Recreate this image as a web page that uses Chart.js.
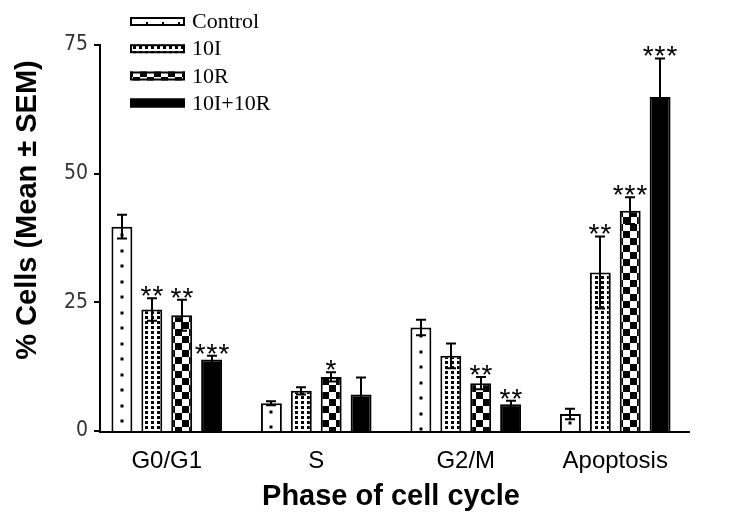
<!DOCTYPE html>
<html lang="en">
<head>
  <meta charset="UTF-8">
  <title>Phase of cell cycle</title>
  <script src="https://cdn.jsdelivr.net/npm/chart.js@4.4.1/dist/chart.umd.min.js"></script>
  <style>
    body { margin: 0; background: #fff; }
    #chart { display: block; }
  </style>
</head>
<body>
  <canvas id="chart" width="750" height="524"></canvas>
  <script>
    // values (mean and SEM, % cells)
    const phases = ['G0/G1', 'S', 'G2/M', 'Apoptosis'];
    const groups = ['Control', '10I', '10R', '10I+10R'];
    const controlMean = [39.7, 5.4, 20.1, 3.3];
    const controlSem = [2.3, 0.4, 1.5, 1.0];
    const tenIMean = [23.6, 7.8, 14.6, 30.8];
    const tenISem = [2.2, 0.7, 2.4, 7.0];
    const tenRMean = [22.5, 10.5, 9.3, 42.8];
    const tenRSem = [3.0, 0.9, 1.2, 2.6];
    const comboMean = [13.9, 7.1, 5.2, 64.9];
    const comboSem = [0.7, 3.3, 0.7, 7.5];
    const controlStars = ['', '', '', ''];
    const tenIStars = ['**', '', '', '**'];
    const tenRStars = ['**', '*', '**', '***'];
    const comboStars = ['***', '', '**', '***'];
    const yTicks = [0, 25, 50, 75];

    const sems = [controlSem, tenISem, tenRSem, comboSem];
    const stars = [controlStars, tenIStars, tenRStars, comboStars];

    const canvas = document.getElementById('chart');
    const mainCtx = canvas.getContext('2d');

    function makePattern(w, h, paint) {
      const tile = document.createElement('canvas');
      tile.width = w;
      tile.height = h;
      const g = tile.getContext('2d');
      g.fillStyle = '#fff';
      g.fillRect(0, 0, w, h);
      g.fillStyle = '#000';
      paint(g);
      return mainCtx.createPattern(tile, 'repeat');
    }

    // dot grid for 10I
    const dotPattern = makePattern(6, 5, g => g.fillRect(1, 1, 3, 3));
    // checkerboard for 10R
    const checkPattern = makePattern(14, 14, g => {
      g.fillRect(0, 0, 7, 7);
      g.fillRect(7, 7, 7, 7);
    });

    const fills = ['#fff', dotPattern, checkPattern, '#000'];

    const extras = {
      id: 'extras',
      afterDatasetsDraw(chart) {
        const ctx = chart.ctx;
        const yS = chart.scales.y;
        ctx.save();

        // sparse dots inside the control bars
        ctx.fillStyle = '#000';
        chart.getDatasetMeta(0).data.forEach(bar => {
          for (let py = bar.y + 8.5; py < bar.base - 1; py += 15.5) {
            ctx.fillRect(Math.round(bar.x) - 1.5, Math.round(py) - 1.5, 3, 3);
          }
        });

        // error bars and significance marks
        ctx.strokeStyle = '#000';
        ctx.lineWidth = 2;
        ctx.font = "28px 'Liberation Sans', Arial, sans-serif";
        ctx.letterSpacing = '1px';
        ctx.textAlign = 'center';
        ctx.textBaseline = 'alphabetic';
        chart.data.datasets.forEach((ds, di) => {
          chart.getDatasetMeta(di).data.forEach((bar, i) => {
            const v = ds.data[i];
            const e = sems[di][i];
            const top = yS.getPixelForValue(v + e);
            const bot = yS.getPixelForValue(v - e);
            const x = Math.round(bar.x);
            ctx.beginPath();
            ctx.moveTo(x, bot);
            ctx.lineTo(x, top);
            ctx.moveTo(x - 5, top);
            ctx.lineTo(x + 5, top);
            ctx.moveTo(x - 5, bot);
            ctx.lineTo(x + 5, bot);
            ctx.stroke();
            if (stars[di][i]) {
              ctx.fillText(stars[di][i], x + 0.5, top + 7);
            }
          });
        });
        ctx.restore();
      },
      afterDraw(chart) {
        const ctx = chart.ctx;
        const area = chart.chartArea;
        const yS = chart.scales.y;
        const ax = area.left + 8;
        const y0 = yS.getPixelForValue(0);
        ctx.save();
        ctx.strokeStyle = '#000';
        ctx.lineWidth = 2;

        // axis lines and y tick marks
        ctx.beginPath();
        ctx.moveTo(ax, yS.getPixelForValue(75) - 1);
        ctx.lineTo(ax, y0 + 2);
        ctx.moveTo(ax - 1, y0 + 1);
        ctx.lineTo(area.right, y0 + 1);
        yTicks.forEach(t => {
          const py = Math.round(yS.getPixelForValue(t));
          ctx.moveTo(ax - 6, py);
          ctx.lineTo(ax, py);
        });
        ctx.stroke();

        // y axis title
        ctx.fillStyle = '#000';
        ctx.font = "bold 29px 'Liberation Sans', Arial, sans-serif";
        ctx.textAlign = 'center';
        ctx.textBaseline = 'middle';
        ctx.translate(28, 210);
        ctx.rotate(-Math.PI / 2);
        ctx.fillText('% Cells (Mean \u00b1 SEM)', 0, 0);
        ctx.setTransform(1, 0, 0, 1, 0, 0);

        // legend
        const rows = [21.5, 48.7, 76, 103];
        ctx.font = "22px 'Liberation Serif', 'Times New Roman', serif";
        ctx.textAlign = 'left';
        groups.forEach((name, k) => {
          const ry = rows[k];
          ctx.fillStyle = fills[k];
          ctx.fillRect(130, ry - 4.5, 55, 9);
          ctx.strokeRect(131, ry - 3.5, 53, 7);
          if (k === 0) {
            ctx.fillStyle = '#000';
            [147, 163, 179].forEach(dx => ctx.fillRect(dx - 1, ry + 0.5, 2, 2));
          }
          ctx.fillStyle = '#000';
          ctx.fillText(name, 192, ry + 1);
        });
        ctx.restore();
      }
    };

    new Chart(canvas, {
      type: 'bar',
      data: {
        labels: phases,
        datasets: [
          { label: groups[0], data: controlMean },
          { label: groups[1], data: tenIMean },
          { label: groups[2], data: tenRMean },
          { label: groups[3], data: comboMean }
        ].map((ds, k) => Object.assign(ds, {
          backgroundColor: fills[k],
          borderColor: '#000',
          borderWidth: 2,
          borderSkipped: 'start',
          barPercentage: 0.7,
          categoryPercentage: 0.8
        }))
      },
      options: {
        responsive: false,
        animation: false,
        devicePixelRatio: 1,
        layout: { padding: { top: 45, right: 60, bottom: 0, left: 0 } },
        plugins: {
          legend: { display: false },
          tooltip: { enabled: false }
        },
        scales: {
          x: {
            grid: { display: false, drawTicks: false },
            border: { display: false },
            ticks: {
              color: '#000',
              padding: 16,
              font: { family: "'Liberation Sans', Arial, sans-serif", size: 24 }
            },
            title: {
              display: true,
              text: 'Phase of cell cycle',
              color: '#000',
              padding: { top: 0, bottom: 10 },
              font: { family: "'Liberation Sans', Arial, sans-serif", size: 29, weight: 'bold' }
            },
            afterFit: s => { s.height = 93; }
          },
          y: {
            min: 0,
            max: 75,
            grid: { display: false, drawTicks: false },
            border: { display: false },
            afterBuildTicks: s => { s.ticks = yTicks.map(v => ({ value: v })); },
            ticks: {
              color: '#333',
              padding: 4,
              font: { family: "'Liberation Sans Narrow', 'DejaVu Sans Condensed', sans-serif", size: 21 }
            },
            afterFit: s => { s.width = 92; }
          }
        }
      },
      plugins: [extras]
    });
  </script>
</body>
</html>
